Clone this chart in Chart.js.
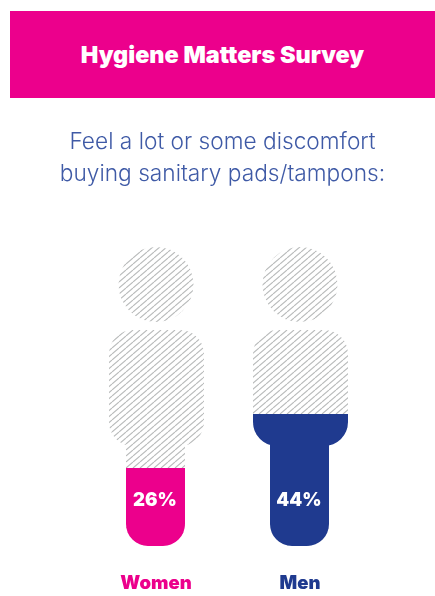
<!DOCTYPE html>
<html>
<head>
<meta charset="utf-8">
<script src="https://cdn.jsdelivr.net/npm/chart.js@4"></script>
<style>
    html, body { margin: 0; padding: 0; background: #fff; }
    #page { position: relative; width: 435px; height: 596px; overflow: hidden; }
    #banner {
        position: absolute; left: 10px; top: 11px; width: 425px; height: 87px;
        background: #ec008c; color: #fff; text-align: center;
        font: 900 23.4px/87px Inter, sans-serif;
    }
    #subtitle {
        position: absolute; left: 10px; top: 125px; width: 425px; text-align: center;
        color: #3f5aa6; font: 300 22.7px/32px Inter, sans-serif;
    }
    canvas { position: absolute; left: 0; top: 0; }
</style>
</head>
<body>
<div id="page">
    <canvas id="surveyChart" width="435" height="596"></canvas>
    <div id="banner">Hygiene Matters Survey</div>
    <div id="subtitle">Feel a lot or some discomfort<br>buying sanitary pads/tampons:</div>
</div>
<script>
// Survey data
const categories = ['Women', 'Men'];
const discomfortValues = [26, 44];
const wholeFigure = [100, 100];
const valueLabels = ['26%', '44%'];
const barColors = ['#ec008c', '#1f3a8f'];

// Hatched background for the empty part of each figure
function makeHatch() {
    const tile = document.createElement('canvas');
    tile.width = 7;
    tile.height = 6;
    const c = tile.getContext('2d');
    c.strokeStyle = '#b8baba';
    c.lineWidth = 1.1;
    [-7, 0, 7].forEach(dx => {
        c.beginPath();
        c.moveTo(dx, 6);
        c.lineTo(dx + 7, 0);
        c.stroke();
    });
    return document.createElement('canvas').getContext('2d').createPattern(tile, 'repeat');
}

// Person outline, sizes in pixels around the bar centre
function tracePerson(ctx, cx, top, bottom) {
    const headR = 37.5;
    ctx.moveTo(cx + headR, top + headR);
    ctx.arc(cx, top + headR, headR, 0, Math.PI * 2);
    ctx.roundRect(cx - 47, top + 83, 95, 116, 24);
    ctx.roundRect(cx - 30, top + 190, 59, bottom - top - 190, [0, 0, 22, 22]);
}

const personClip = {
    id: 'personClip',
    beforeDatasetsDraw(chart) {
        const { ctx, scales } = chart;
        ctx.save();
        ctx.beginPath();
        categories.forEach((name, i) => {
            tracePerson(ctx, scales.x.getPixelForValue(i), scales.y.getPixelForValue(100), scales.y.getPixelForValue(0));
        });
        ctx.clip();
    },
    afterDatasetsDraw(chart) {
        const { ctx, scales } = chart;
        ctx.restore();
        ctx.save();
        ctx.fillStyle = '#fff';
        ctx.font = '900 18.5px Inter, sans-serif';
        ctx.textAlign = 'center';
        ctx.textBaseline = 'middle';
        valueLabels.forEach((label, i) => {
            ctx.fillText(label, scales.x.getPixelForValue(i) - 1, scales.y.getPixelForValue(15.4));
        });
        ctx.restore();
    }
};

new Chart(document.getElementById('surveyChart').getContext('2d'), {
    type: 'bar',
    data: {
        labels: categories,
        datasets: [
            { label: 'Discomfort', data: discomfortValues, backgroundColor: barColors, barThickness: 100 },
            { label: 'All', data: wholeFigure, backgroundColor: makeHatch(), barThickness: 100 }
        ]
    },
    options: {
        responsive: false,
        animation: false,
        layout: { padding: { left: 84, right: 63, top: 247, bottom: 0 } },
        plugins: { legend: { display: false }, tooltip: { enabled: false } },
        scales: {
            y: { display: false, min: 0, max: 100 },
            x: {
                stacked: true,
                afterFit: scale => { scale.height = 50; },
                grid: { display: false },
                border: { display: false },
                ticks: {
                    color: barColors,
                    padding: 18,
                    font: { family: 'Inter', weight: '900', size: 18.5 }
                }
            }
        }
    },
    plugins: [personClip]
});
</script>
</body>
</html>
